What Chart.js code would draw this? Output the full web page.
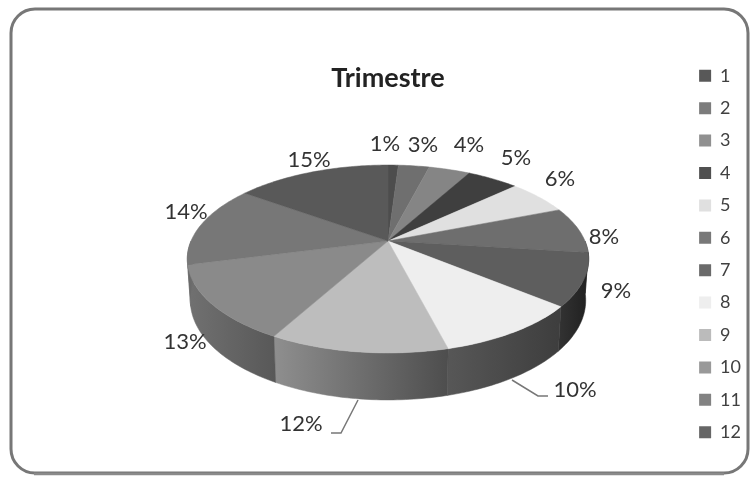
<!DOCTYPE html>
<html><head><meta charset="utf-8">
<style>html,body{margin:0;padding:0;background:#fff}#w{width:752px;height:478px;position:relative}canvas{filter:blur(0.45px)}</style>
<script src="https://cdn.jsdelivr.net/npm/chart.js@4"></script>
</head><body><div id="w"><canvas id="c" width="752" height="478"></canvas></div>
<script>
const categories = ['1','2','3','4','5','6','7','8','9','10','11','12'];
const shares = [1,3,4,5,6,8,9,10,12,13,14,15];
const faceColors = ['#4d4d4d','#6f6f6f','#858585','#3f3f3f','#e0e0e0','#6e6e6e','#5e5e5e','#eeeeee','#bdbdbd','#8a8a8a','#777777','#595959'];
const swatchColors = ['#585858','#7c7c7c','#909090','#505050','#e0e0e0','#787878','#6a6a6a','#eeeeee','#bbbbbb','#999999','#828282','#666666'];
const wallStart = ['#333','#444','#555','#333','#999','#333','#222222','#3e3e3e','#4e4e4e','#585858','#6a6a6a','#444'];
const wallEnd = ['#333','#444','#555','#333','#999','#333','#333333','#575757','#8e8e8e','#707070','#707070','#444'];
const labelTexts = ['1%','3%','4%','5%','6%','8%','9%','10%','12%','13%','14%','15%'];
const labelSpots = [[385,144],[423,145],[469,145],[516,158],[560,179],[604,237],[616,291],[575,390],[301,424],[185,342],[186,212],[309,160]];
const leaders = [[[512,380],[538,396],[548,396]],[[358,400],[341,433],[331,433]]];

// perspective view of the pie disc
const view = {cx:388, cy:241, rx:197, ry:90.5, k:0.1916, wall:40, wallGrow:7, wallNarrow:0.985};
const titleDrop = 62, legendDrop = 15, legendShift = 2;
function rim(theta){ // Chart.js angle (0 = 3 o'clock, clockwise)
  const u=Math.cos(theta), v=Math.sin(theta), s=1/(1-view.k*v);
  return [view.cx+view.rx*u*s, view.cy+view.ry*v*s, v];
}
function low(theta){
  const p=rim(theta);
  return [view.cx+(p[0]-view.cx)*view.wallNarrow, p[1]+view.wall+view.wallGrow*Math.max(p[2],0)];
}
const frame = {
  id:'frame',
  afterLayout(chart){
    chart.titleBlock.top+=titleDrop;chart.titleBlock.bottom+=titleDrop;
    const L=chart.legend;
    L.top+=legendDrop;L.bottom+=legendDrop;L.left+=legendShift;L.right+=legendShift;
  },
  beforeDraw(chart){
    const c=chart.ctx;
    c.save();
    c.fillStyle='#fff';c.fillRect(0,0,752,478);
    c.beginPath();c.roundRect(11,9,737,464,24);
    c.lineWidth=3;c.strokeStyle='#777';c.stroke();
    c.beginPath();c.moveTo(34,474);c.lineTo(724,474);c.lineWidth=2.5;c.strokeStyle='#8a8a8a';c.stroke();
    c.restore();
  }
};
const pie3d = {
  id:'pie3d',
  beforeDatasetDraw(chart,args){
    const c=chart.ctx, arcs=args.meta.data, step=Math.PI/180;
    // side wall, front half only
    arcs.forEach((a,i)=>{
      const from=Math.max(a.startAngle,0), to=Math.min(a.endAngle,Math.PI);
      if(to<=from) return;
      const A=low(from), B=low(to);
      const g=c.createLinearGradient(A[0],0,B[0],0);
      g.addColorStop(0,wallStart[i]);g.addColorStop(1,wallEnd[i]);
      c.beginPath();
      for(let t=from;t<to;t+=step){const p=rim(t);c.lineTo(p[0],p[1]);}
      let p=rim(to);c.lineTo(p[0],p[1]);
      for(let t=to;t>from;t-=step){p=low(t);c.lineTo(p[0],p[1]);}
      p=low(from);c.lineTo(p[0],p[1]);
      c.closePath();c.fillStyle=g;c.fill();c.strokeStyle=g;c.lineWidth=.5;c.stroke();
    });
    // top face
    arcs.forEach((a,i)=>{
      c.beginPath();c.moveTo(view.cx,view.cy);
      for(let t=a.startAngle;t<a.endAngle;t+=step){const p=rim(t);c.lineTo(p[0],p[1]);}
      const e=rim(a.endAngle);c.lineTo(e[0],e[1]);c.closePath();
      c.fillStyle=a.options.backgroundColor;c.fill();
      c.strokeStyle=a.options.backgroundColor;c.lineWidth=.5;c.stroke();
    });
    return false;
  },
  afterDatasetsDraw(chart){
    const c=chart.ctx;
    c.save();
    c.strokeStyle='#777';c.lineWidth=1.5;
    leaders.forEach(l=>{c.beginPath();l.forEach((p,j)=>j?c.lineTo(p[0],p[1]):c.moveTo(p[0],p[1]));c.stroke();});
    c.fillStyle='#333';c.font='22px Lato';c.textAlign='center';c.textBaseline='middle';
    labelTexts.forEach((t,i)=>c.fillText(t,labelSpots[i][0],labelSpots[i][1]));
    c.restore();
  }
};
new Chart(document.getElementById('c'),{
  type:'pie',
  data:{labels:categories,datasets:[{data:shares,backgroundColor:faceColors,borderWidth:0}]},
  plugins:[frame,pie3d],
  options:{
    responsive:false,animation:false,
    layout:{padding:{left:27,top:0,right:3,bottom:0}},
    plugins:{
      tooltip:{enabled:false},
      title:{display:true,text:'Trimestre',color:'#222',font:{family:'Lato',size:27,weight:'bold'},padding:{top:0,bottom:0}},
      legend:{position:'right',labels:{boxWidth:12,boxHeight:12,padding:14.4,color:'#404040',font:{family:'Lato',size:18},
        generateLabels(chart){
          return Chart.overrides.pie.plugins.legend.labels.generateLabels(chart).map((l,i)=>Object.assign(l,{fillStyle:swatchColors[i],strokeStyle:swatchColors[i]}));
        }}}
    }
  }
});
</script></body></html>
